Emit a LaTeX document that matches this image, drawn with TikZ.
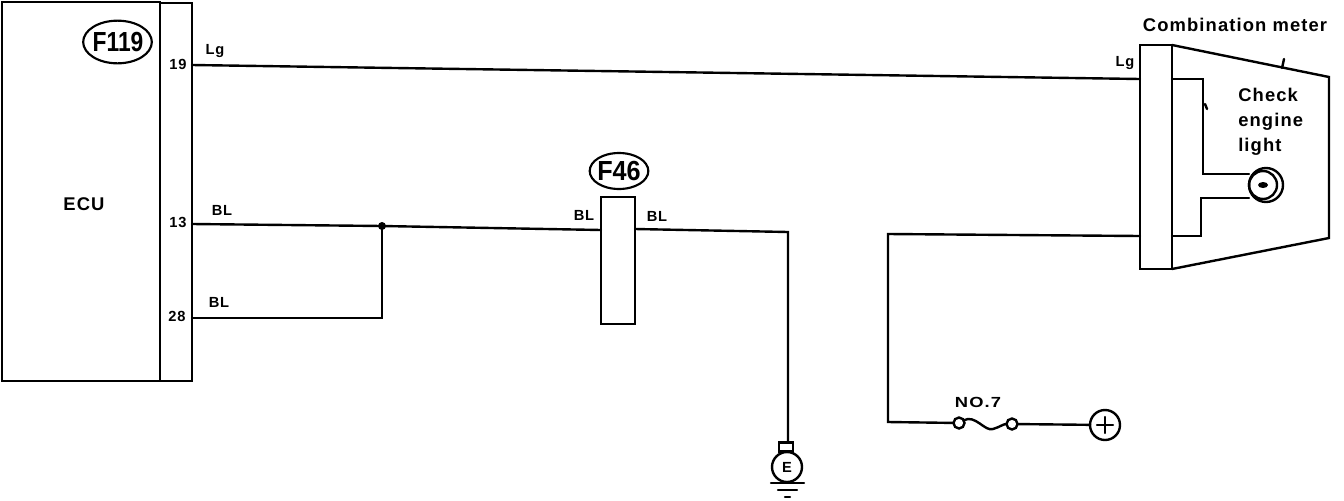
\documentclass[tikz,border=0pt]{standalone}
\usepackage{fontspec}
\setmainfont{Liberation Sans}[BoldFont=Liberation Sans Bold]
\newfontfamily\widefont{Liberation Sans Bold}[LetterSpace=6]
\usetikzlibrary{%
  shapes.geometric%
}
\tikzset{
  wire/.style={line width=1.8pt,line cap=round,line join=miter},
  box/.style 2 args={draw,line width=1.8pt,inner sep=0pt,outer sep=0pt,
    minimum width=#1*0.75pt,minimum height=#2*0.75pt},
  txt/.style={inner sep=0pt,font=\widefont\fontsize{11}{11}\selectfont},
  big/.style={inner sep=0pt,font=\widefont\fontsize{13.8}{18.8}\selectfont},
  tagtxt/.style={inner sep=0pt,font=\bfseries\fontsize{18}{18}\selectfont},
  tag/.style={draw,ellipse,line width=1.6pt,inner sep=0pt,outer sep=0pt},
  symb/.style={draw,circle,line width=1.8pt,inner sep=0pt,outer sep=0pt,
    minimum size=#1*0.75pt}
}
\begin{document}
\begin{tikzpicture}[x=0.75pt,y=-0.75pt]
      \useasboundingbox (0,0) rectangle (1344,500);
      \node (ecu) [box={158}{379}] at (81,191.5) {};
      \node (ecupins) [box={32}{378}] at (176,192) {};
      \node (ecutext) [big] at (84,204) {ECU};
      \node (f119) [tag,minimum width=51.5pt,minimum height=32pt] at (117.5,42) {};
      \node (f119text) [tagtxt] at (118,42) {\scalebox{.95}[1.15]{F119}};
      \node (pin19) [txt] at (178,64.5) {19};
      \node (pin13) [txt] at (178,222.5) {13};
      \node (pin28) [txt] at (177,316.5) {28};
      \node (conn) [box={34}{127}] at (618,260.5) {};
      \node (f46) [tag,minimum width=44pt,minimum height=27pt] at (619,171) {};
      \node (f46text) [tagtxt] at (619,171) {\scalebox{1.05}[1.15]{F46}};
      \node (meter) [box={32}{224}] at (1156,157) {};
      \node (metertext) [big] at (1235,25) {Combination meter};
      \node (checktext) [big,align=left,anchor=north west] at (1238,87.5)
        {Check\\engine\\light};
      \node (earth) [symb=30] at (787,467) {\fontsize{11}{11}\selectfont\bfseries E};
      \node (earthcap) [box={14}{9}] at (786,447) {};
      \node (plus) [symb=30] at (1105,425) {};
      \node (fusea) [symb=11] at (959,423) {};
      \node (fuseb) [symb=11] at (1012,424) {};
      \node (bulb) [symb=34] at (1266,185) {};
      \node (bulbin) [symb=28] at (1263,185) {};
      \node (labLg) [txt] at (215,51) {Lg};
      \node (labLgb) [txt] at (1125,63) {Lg};
      \node (labBLa) [txt] at (222,210) {BL};
      \node (labBLb) [txt] at (219,302) {BL};
      \node (labBLc) [txt] at (584,215) {BL};
      \node (labBLd) [txt] at (657,216) {BL};
      \node (labNo) [txt] at (978,402) {\scalebox{1.25}[1]{NO.7}};
      \coordinate (j1) at (382,226);
      \coordinate (k1) at (382,318);
      \coordinate (k2) at (788,232);
      \coordinate (k3) at (888,234);
      \coordinate (k4) at (888,422);
      \coordinate (t1) at (1329,77);
      \coordinate (t2) at (1329,238);
      \coordinate (i1) at (1203,79);
      \coordinate (i2) at (1203,174);
      \coordinate (i3) at (1201,236);
      \coordinate (i4) at (1201,198);
      \begin{scope}[wire]
        \draw (192,65) -- (1140,79);
        \draw (192,224) -- (j1) -- (601,230);
        \draw (192,318) -- (k1) -- (j1);
        \draw (635,229) -- (k2) -- (earthcap.north -| k2);
        \draw (1140,236) -- (k3) -- (k4) -- (fusea);
        \draw (fuseb) -- (plus);
        \draw (fusea) .. controls (975,414) and (985,432) .. (993,429)
          .. controls (1000,427) and (1003,424) .. (fuseb);
        \draw (1172,45) -- (t1) -- (t2) -- (1172,269);
        \draw (1172,79) -- (i1) -- (i2) -- (bulbin.west |- i2);
        \draw (1172,236) -- (i3) -- (i4) -- (bulbin.west |- i4);
        \draw (1282,68) -- (1284,59);
        \draw (1205,104) -- (1207,109);
        \draw (1105,417) -- (1105,433);
        \draw (1097,425) -- (1113,425);
        \draw (771,483) -- (804,483);
        \draw (778,490) -- (797,490);
        \draw (785,497) -- (790,497);
      \end{scope}
      \fill (j1) circle (4);
      \fill (1263,185) ellipse (5 and 3);
    \end{tikzpicture}
\end{document}
